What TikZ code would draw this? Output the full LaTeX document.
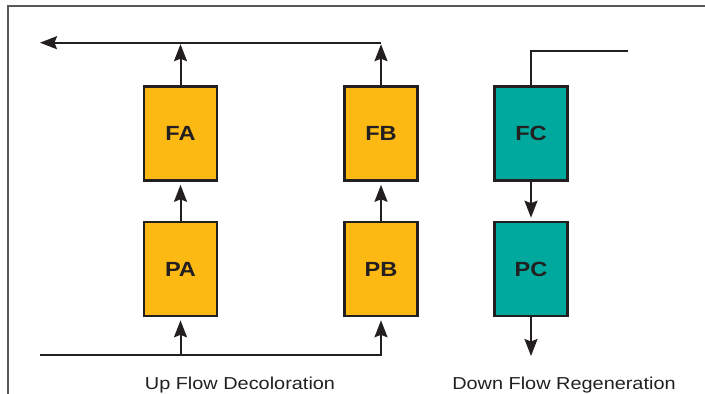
\documentclass[tikz,border=0pt]{standalone}
\usepackage{fontspec}
\setmainfont{Liberation Sans}
\newfontfamily\stretchfont[FakeStretch=1.15]{Liberation Sans}
\usetikzlibrary{arrows.meta,shadows}
\definecolor{boxorange}{HTML}{FDB913}
\definecolor{boxteal}{HTML}{00A99D}
\definecolor{ink}{HTML}{231F20}
\definecolor{framegray}{HTML}{58595B}
\tikzset{
  unit/.style={draw=ink, line width=2.6pt, minimum width=73pt, minimum height=94pt,
    inner sep=0pt, font=\stretchfont\fontsize{20.5}{21}\selectfont\bfseries, text=ink,
    drop shadow={shadow xshift=1.2pt, shadow yshift=-1.2pt, fill=black!35, opacity=1}},
  orangebox/.style={unit, fill=boxorange},
  tealbox/.style={unit, fill=boxteal},
  flow/.style={draw=ink, line width=2pt},
  flowarrow/.style={flow, -{Stealth[length=17pt,width=13pt,inset=2.5pt]}, shorten >=3pt},
  caption/.style={font=\stretchfont\fontsize{17.3}{18}\selectfont, text=ink, anchor=base}
}
\begin{document}
\begin{tikzpicture}[x=1pt,y=-1pt]
\useasboundingbox (0,0) rectangle (705,394);
% partial frame
\draw[framegray, line width=2pt] (7.5,394) -- (7.5,5.5) -- (705,5.5);

\node[orangebox] (FA) at (180.5,133.5) {FA};
\node[orangebox] (PA) at (180.5,269) {PA};
\node[orangebox] (FB) at (381,133.5) {FB};
\node[orangebox] (PB) at (381,269) {PB};
\node[tealbox] (FC) at (531,133.5) {FC};
\node[tealbox] (PC) at (531,269) {PC};

\coordinate (feed) at (40,355);
\coordinate (topout) at (40,42.7);
\coordinate (topright) at (381,42.7);
\coordinate (regin) at (628,51);
\coordinate (regout) at (531,356);

% up flow feed
\draw[flowarrow] (feed) -| (PB.south);
\draw[flowarrow] (PA.south |- feed) -- (PA.south);
% internal up flow
\draw[flowarrow] (PA.north) -- (FA.south);
\draw[flowarrow] (PB.north) -- (FB.south);
% to top header
\draw[flowarrow, shorten >=1.5pt] (FA.north) -- (FA.north |- topout);
\draw[flowarrow, shorten >=1.5pt] (FB.north) -- (topright);
\draw[flowarrow, shorten >=0pt] (topright) -- (topout);
% down flow regeneration
\draw[flow] (regin) -| (FC.north);
\draw[flowarrow] (FC.south) -- (PC.north);
\draw[flowarrow, shorten >=0pt] (PC.south) -- (regout);

\node[caption] (cap1) at (240,389) {Up Flow Decoloration};
\node[caption] (cap2) at (564,389) {Down Flow Regeneration};
\end{tikzpicture}
\end{document}
